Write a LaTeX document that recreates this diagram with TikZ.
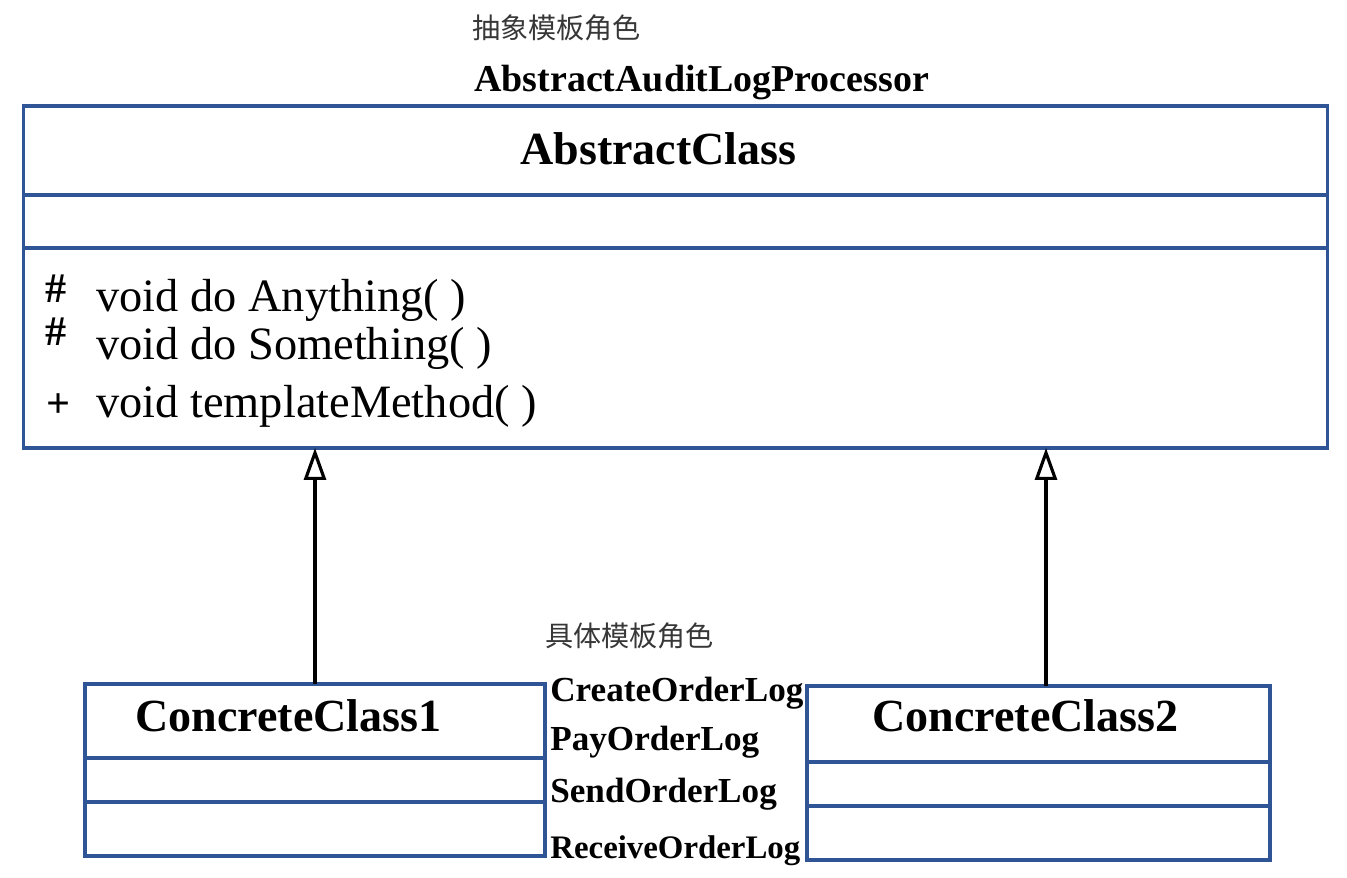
\documentclass[tikz,border=0pt]{standalone}
\usepackage{fontspec}
\setmainfont{Liberation Serif}
\newfontfamily\cjk{Noto Sans CJK SC}
\usepackage{tikz}
\usetikzlibrary{arrows.meta}

\definecolor{umlblue}{RGB}{47,85,151}
\definecolor{cjkgray}{RGB}{55,55,55}

\tikzset{
    compart/.style={draw=umlblue, line width=1.8pt, inner sep=0pt, outer sep=0pt},
    role/.style={anchor=west, inner sep=0pt, text=cjkgray, font=\cjk\fontsize{16}{18}\selectfont},
    clsname/.style={anchor=base west, inner sep=0pt, font=\bfseries\fontsize{26.2}{28}\selectfont},
    method/.style={anchor=base west, inner sep=0pt, font=\fontsize{26.4}{28}\selectfont},
    vis/.style={anchor=base west, inner sep=0pt, font=\bfseries\fontsize{24}{26}\selectfont},
    logname/.style={anchor=base west, inner sep=0pt, font=\bfseries\fontsize{20}{22}\selectfont},
    inherit/.style={line width=1.8pt, -{Triangle[open, length=0.64cm, width=0.44cm]}}
}

\begin{document}
\begin{tikzpicture}[x=0.02cm, y=-0.02cm]
        \useasboundingbox (0,0) rectangle (1347,878);

        % abstract class
        \node[compart, minimum width=26.1cm, minimum height=1.78cm] at (675.5, 150.5) (abs-name) {};
        \node[compart, minimum width=26.1cm, minimum height=1.06cm] at (675.5, 221.5) (abs-attr) {};
        \node[compart, minimum width=26.1cm, minimum height=4.0cm] at (675.5, 348) (abs-ops) {};

        \node[role] at (472, 28) (abs-role) {抽象模板角色};
        \node[logname, font=\bfseries\fontsize{21.6}{23}\selectfont] at (474, 92) (abs-impl) {AbstractAuditLogProcessor};
        \node[clsname] at (520, 165) (abs-title) {AbstractClass};

        \node[vis] at (45, 303) (vis1) {\#};
        \node[vis] at (45, 346) (vis2) {\#};
        \node[vis] at (46, 418) (vis3) {+};
        \node[method] at (96, 312) (op1) {void do Anything( )};
        \node[method] at (96, 360) (op2) {void do Something( )};
        \node[method] at (96, 418) (op3) {void templateMethod( )};

        % concrete classes
        \node[compart, minimum width=9.2cm, minimum height=1.48cm] at (315, 721) (c1-name) {};
        \node[compart, minimum width=9.2cm, minimum height=0.88cm] at (315, 780) (c1-attr) {};
        \node[compart, minimum width=9.2cm, minimum height=1.08cm] at (315, 829) (c1-ops) {};
        \node[clsname] at (135, 732) (c1-title) {ConcreteClass1};

        \node[compart, minimum width=9.26cm, minimum height=1.52cm] at (1038.5, 724) (c2-name) {};
        \node[compart, minimum width=9.26cm, minimum height=0.88cm] at (1038.5, 784) (c2-attr) {};
        \node[compart, minimum width=9.26cm, minimum height=1.08cm] at (1038.5, 833) (c2-ops) {};
        \node[clsname] at (872, 732) (c2-title) {ConcreteClass2};

        \node[role] at (545, 636) (con-role) {具体模板角色};
        \node[logname] at (550, 702) (log1) {CreateOrderLog};
        \node[logname] at (550, 750) (log2) {PayOrderLog};
        \node[logname] at (550, 803) (log3) {SendOrderLog};
        \node[logname, font=\bfseries\fontsize{18.7}{20}\selectfont] at (550, 858) (log4) {ReceiveOrderLog};

        \draw[inherit] (c1-name.north) -- (c1-name.north |- abs-ops.south);
        \draw[inherit] ([xshift=0.15cm]c2-name.north) -- ([xshift=0.15cm]c2-name.north |- abs-ops.south);
    \end{tikzpicture}
\end{document}
